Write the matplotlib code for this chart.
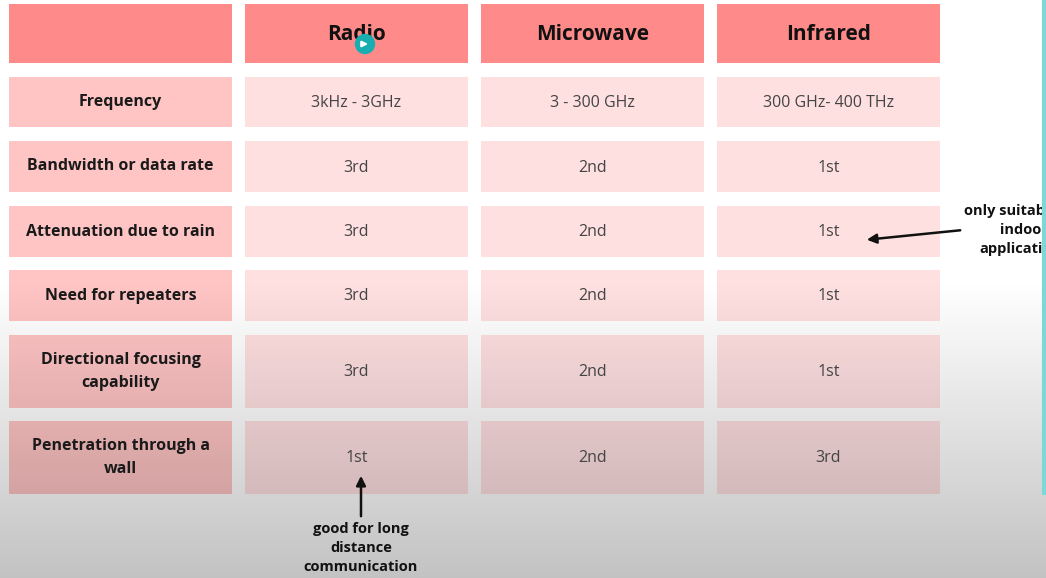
import numpy as np
import matplotlib
matplotlib.use("Agg")
import matplotlib.pyplot as plt
from matplotlib.patches import Rectangle, Circle

# ---- data ----
columns = ["Radio", "Microwave", "Infrared"]
row_labels = ["Frequency", "Bandwidth or data rate", "Attenuation due to rain",
              "Need for repeaters", "Directional focusing\ncapability",
              "Penetration through a\nwall"]
radio = ["3kHz - 3GHz", "3rd", "3rd", "3rd", "3rd", "1st"]
microwave = ["3 - 300 GHz", "2nd", "2nd", "2nd", "2nd", "2nd"]
infrared = ["300 GHz- 400 THz", "1st", "1st", "1st", "1st", "3rd"]
note_bottom = "good for long\ndistance\ncommunication"
note_right = "only suitable for\nindoor\napplications"

W, H = 1046, 578
fig = plt.figure(figsize=(W / 100, H / 100), dpi=100)
ax = fig.add_axes([0, 0, 1, 1])
ax.set_xlim(0, W)
ax.set_ylim(H, 0)
ax.axis("off")
fig.patch.set_facecolor("white")

FONT = "Open Sans"
col_x = [9, 245, 481, 717]
col_w = 223
header_y, header_h = 4, 59
rows_y = [77, 141, 206, 270, 335, 421]
rows_h = [50, 51, 51, 51, 73, 73]

HEAD = "#ff8a8a"
LAB = "#ffc4c4"
DAT = "#ffe0e1"

# header row
ax.add_patch(Rectangle((col_x[0], header_y), col_w, header_h, color=HEAD, lw=0))
for j, c in enumerate(columns):
    x0 = col_x[j + 1]
    ax.add_patch(Rectangle((x0, header_y), col_w, header_h, color=HEAD, lw=0))
    ax.text(x0 + col_w / 2, header_y + header_h / 2 + 1, c, ha="center", va="center",
            fontsize=15, fontweight="bold", family=FONT, color="#111111", zorder=5)

series = [radio, microwave, infrared]
for i, lab in enumerate(row_labels):
    y0, h = rows_y[i], rows_h[i]
    ax.add_patch(Rectangle((col_x[0], y0), col_w, h, color=LAB, lw=0))
    ax.text(col_x[0] + col_w / 2, y0 + h / 2, lab, ha="center", va="center",
            fontsize=11.5, fontweight="bold", family=FONT, color="#1a1a1a",
            linespacing=1.55, zorder=5)
    for j, s in enumerate(series):
        x0 = col_x[j + 1]
        ax.add_patch(Rectangle((x0, y0), col_w, h, color=DAT, lw=0))
        ax.text(x0 + col_w / 2, y0 + h / 2 + 1, s[i], ha="center", va="center",
                fontsize=11.5, family=FONT, color="#444444", zorder=5)

# gradient darkening overlay toward the bottom
yy = np.linspace(0, H, 400)
alpha = np.clip((yy - 280) / (H - 280), 0, 1) * 0.24
grad = np.zeros((400, 1, 4))
grad[:, 0, 3] = alpha
ax.imshow(grad, extent=[0, W, H, 0], aspect="auto", zorder=4, interpolation="bilinear")
ax.set_xlim(0, W)
ax.set_ylim(H, 0)

# teal cursor icon
ax.add_patch(Circle((365, 44), 9.5, color="#19aeb0", zorder=6))
ax.annotate("", xy=(371, 44), xytext=(359, 44),
            arrowprops=dict(arrowstyle="-|>", color="white", lw=1.6,
                            mutation_scale=8), zorder=7)

# annotations
ax.annotate("", xy=(361, 473), xytext=(361, 519),
            arrowprops=dict(arrowstyle="-|>", color="#111111", lw=1.8,
                            mutation_scale=14), zorder=7)
ax.text(361, 548, note_bottom, ha="center", va="center", fontsize=10.5,
        fontweight="bold", family=FONT, color="#111111", linespacing=1.45, zorder=7)

ax.annotate("", xy=(864, 240), xytext=(963, 230),
            arrowprops=dict(arrowstyle="-|>", color="#111111", lw=1.8,
                            mutation_scale=14), zorder=7)
ax.text(1024, 230, note_right, ha="center", va="center", fontsize=10.5,
        fontweight="bold", family=FONT, color="#111111", linespacing=1.45, zorder=7)

# teal edge line at right
ax.plot([1044, 1044], [0, 495], color="#7fd6d8", lw=3, zorder=8,
        solid_capstyle="butt")

fig.savefig("out.png", dpi=100)
